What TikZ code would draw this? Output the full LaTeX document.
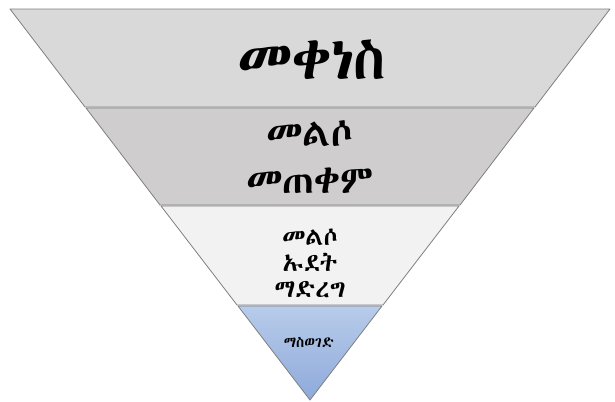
\documentclass[tikz,border=0pt]{standalone}
\usepackage{fontspec}
\IfFontExistsTF{Abyssinica SIL}
  {\newfontfamily\ethfont[Script=Ethiopic]{Abyssinica SIL}}
  {\IfFontExistsTF{FreeSerif}
    {\newfontfamily\ethfont[Script=Ethiopic]{FreeSerif}}
    {\newfontfamily\ethfont{DejaVu Sans}}}
\usepackage{tikz}
\usetikzlibrary{positioning}

\definecolor{bandA}{HTML}{D9D9D9}
\definecolor{bandB}{HTML}{CFCDCD}
\definecolor{bandC}{HTML}{F2F2F2}
\definecolor{bandTop}{HTML}{B8CCEA}
\definecolor{bandBot}{HTML}{8EAADB}
\definecolor{edgegray}{HTML}{7F7F7F}

\begin{document}
\begin{tikzpicture}[x=1bp, y=-1bp,
    band/.style={draw=edgegray, line width=0.8bp, line join=round},
    lbl/.style={align=center, text=black, inner sep=0pt}]

        \useasboundingbox (0,0) rectangle (615,401);

        \path[band, fill=bandA] (10,9) -- (610,9) -- (535,107) -- (85,107) -- cycle;
        \path[band, fill=bandB] (86,108) -- (534,108) -- (460,205) -- (160,205) -- cycle;
        \path[band, fill=bandC] (161,206) -- (459,206) -- (383,305) -- (237,305) -- cycle;
        \path[band, top color=bandTop, bottom color=bandBot] (238,306) -- (382,306) -- (310,400) -- cycle;

        \node[lbl, font=\ethfont\fontsize{59}{66}\selectfont] (t1) at (312,60) {መቀነስ};
        \node[lbl, font=\ethfont\fontsize{39}{47}\selectfont] (t2) at (310,157) {መልሶ\\መጠቀም};
        \node[lbl, font=\ethfont\fontsize{25}{26}\selectfont] (t3) at (310,263) {መልሶ\\ኡደት\\ማድረግ};
        \node[lbl, font=\ethfont\fontsize{15}{17}\selectfont] (t4) at (309,342) {ማስወገድ};

    \end{tikzpicture}
\end{document}
